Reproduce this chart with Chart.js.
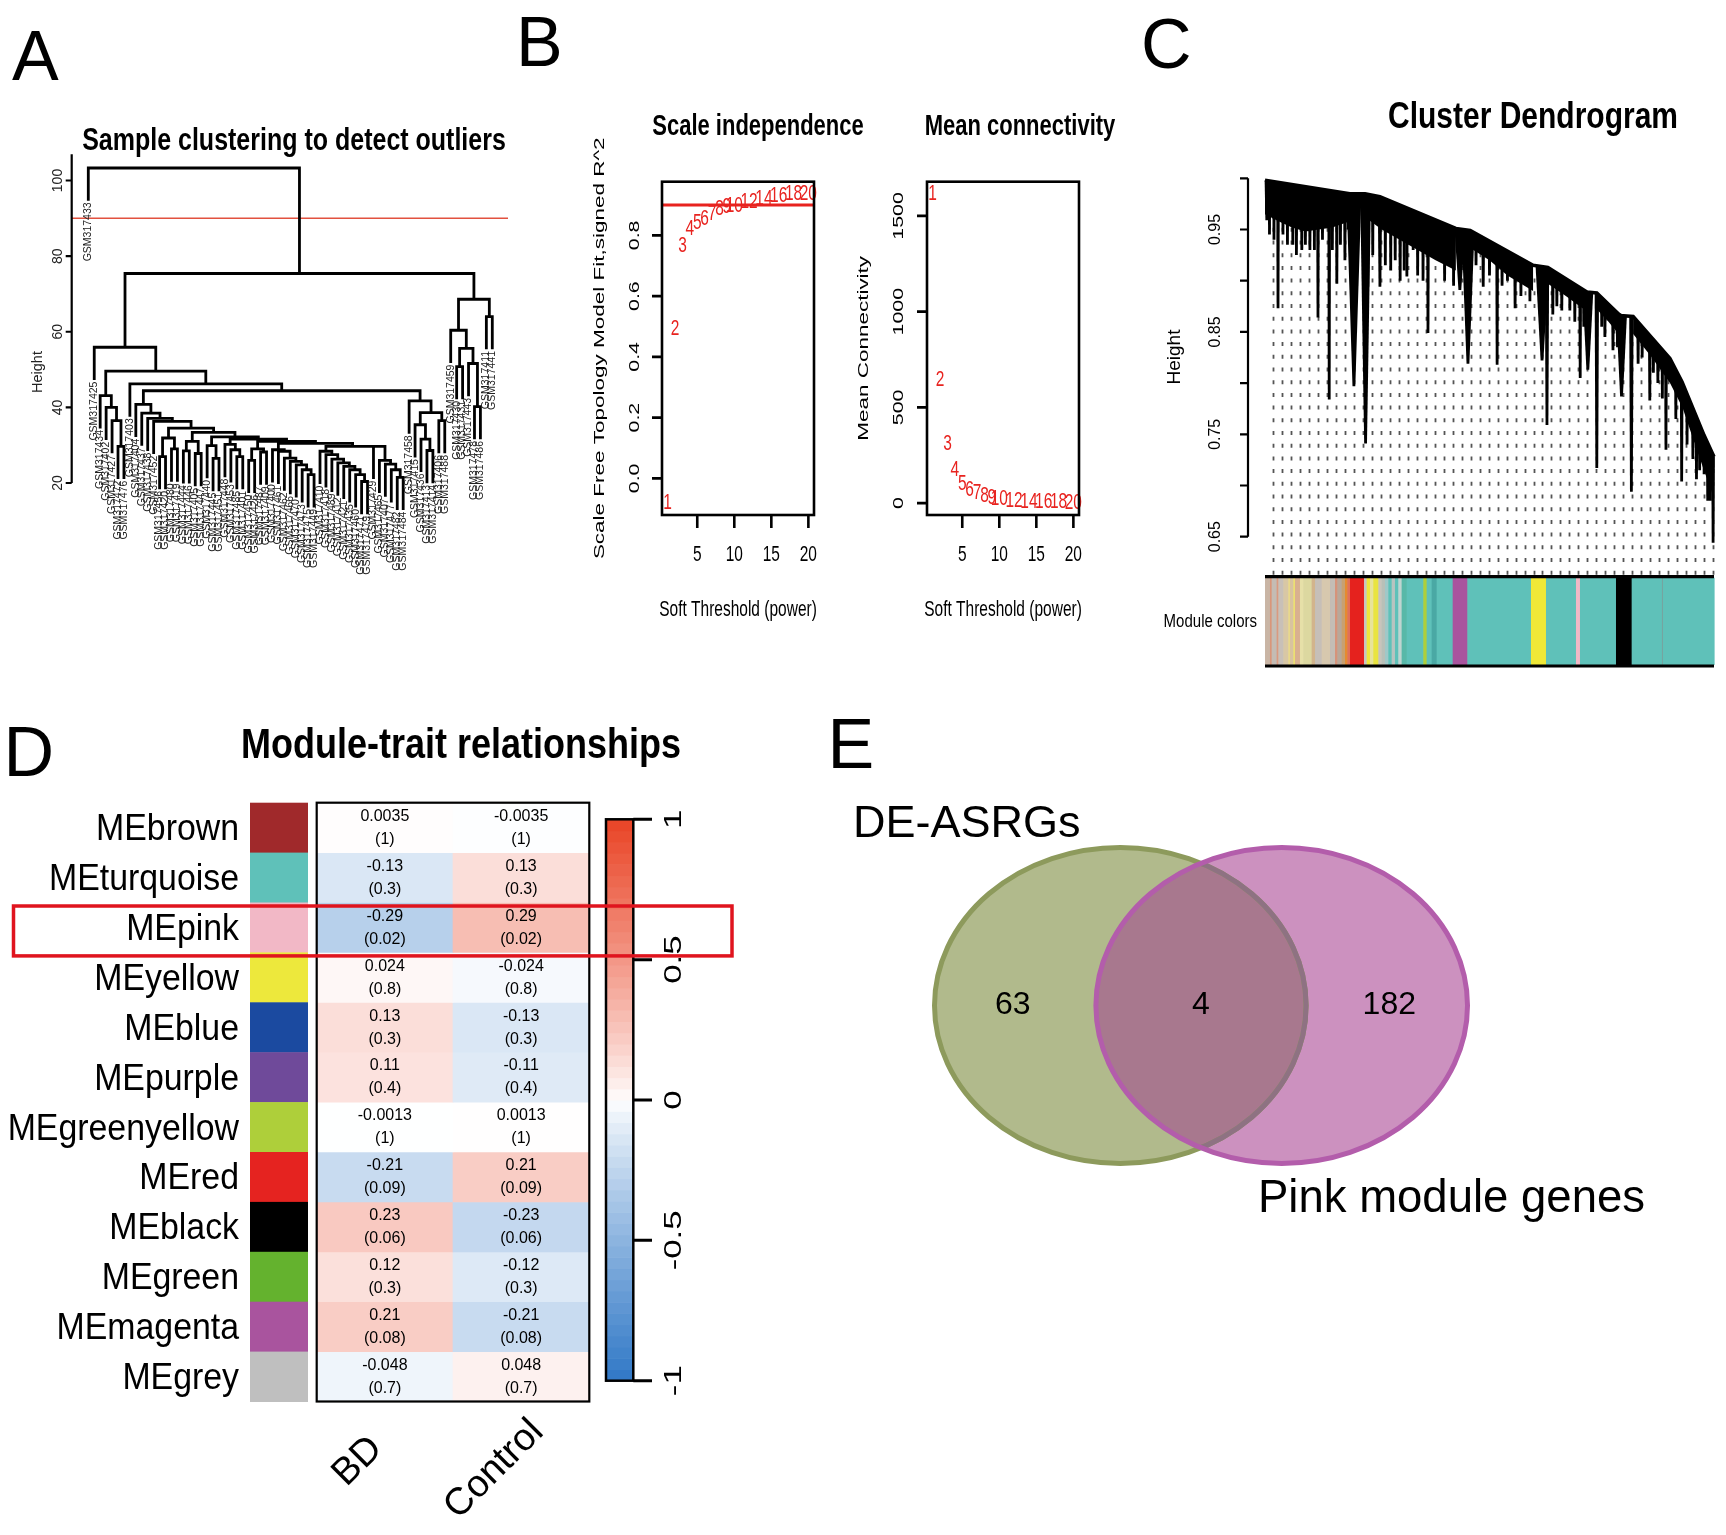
<!DOCTYPE html>
<html>
<head>
<meta charset="utf-8">
<title>WGCNA analysis</title>
<script src="https://cdn.jsdelivr.net/npm/chart.js@4.4.1/dist/chart.umd.min.js"></script>
<style>
  html, body { margin: 0; padding: 0; background: #fff; }
  #wrap { position: relative; width: 1726px; height: 1535px; overflow: hidden; background: #fff; }
  #wrap canvas { position: absolute; left: 0; top: 0; }
</style>
</head>
<body>
<div id="wrap"></div>
<script>
// ---------- A: sample clustering (node = [height, left, right], leaf = sample id)
const catA = [28.8, 'GSM317400', [28.4, 'GSM317461', [26.6, 'GSM317462', [25.7, 'GSM317466', [24.8, 'GSM317470', [23.5, 'GSM317473', [22.2, 'GSM317475', 'GSM317449']]]]]]];
const catB = [28.4, 'GSM317410', [27.5, 'GSM317418', [26.3, 'GSM317489', [25.3, 'GSM317412', [24.4, 'GSM317421', [23.5, 'GSM317435', [22.2, 'GSM317460', [20.4, 'GSM317471', 'GSM317479']]]]]]]];
const catC = [29.7, 'GSM317429', [26.0, 'GSM317465', [25.0, 'GSM317407', [23.5, 'GSM317477', [21.5, 'GSM317482', 'GSM317484']]]]];
const coreTree = [40.8, 'GSM317404', [38.5, 'GSM317437', [37.1, 'GSM317438', [36.3, 'GSM317452', [34.5,
  [31.9, [27.0, 'GSM317456', 'GSM317420'], [29.0, 'GSM317480', 'GSM317419']],
  [33.4,
    [31.0, [28.5, 'GSM317444', 'GSM317446'], [27.8, 'GSM317405', 'GSM317447']],
    [32.2,
      [29.9, 'GSM317440', [26.5, 'GSM317445', 'GSM317451']],
      [31.6,
        [30.2, 'GSM317448', [28.8, 'GSM317453', [27.0, 'GSM317485', 'GSM317401']]],
        [31.0,
          [29.0, [26.0, 'GSM317450', 'GSM317426'], [28.2, 'GSM317487', 'GSM317409']],
          [30.5, catA, [29.7, catB, catC]]
        ]]]]]]]]];
const rightSmall = [41.7, 'GSM317458', [38.6, [35.4, 'GSM317415', [31.6, 'GSM317436', [28.6, 'GSM317413', 'GSM317414']]], [36.5, 'GSM317406', 'GSM317488']]];
const outerRight = [68.6, [60.4, 'GSM317459', [55.6, [50.8, 'GSM317430', 'GSM317431'], [51.6, 'GSM317443', [40.2, 'GSM317478', 'GSM317486']]]], [64.0, 'GSM317411', 'GSM317441']];
const sampleTree = [103.3, 'GSM317433', [75.4,
  [55.9, 'GSM317425', [49.6,
    [43.1, 'GSM317434', [40.0, 'GSM317402', [36.5, 'GSM317427', [29.7, 'GSM317472', 'GSM317476']]]],
    [46.2, 'GSM317403', [44.4, coreTree, rightSmall]]]],
  outerRight]];
const cutHeight = 90;
const heightTicks = [20, 40, 60, 80, 100];

// ---------- B: soft threshold
const powers = [1, 2, 3, 4, 5, 6, 7, 8, 9, 10, 12, 14, 16, 18, 20];
const scaleFreeFit = [-0.08, 0.49, 0.766, 0.819, 0.841, 0.855, 0.869, 0.886, 0.893, 0.897, 0.908, 0.919, 0.93, 0.936, 0.936];
const meanConnectivity = [1614, 642, 310, 170, 100, 68, 51, 35, 26, 19, 11, 7, 5, 3.5, 2.5];
const fitCutoff = 0.9;
const powerTicks = [5, 10, 15, 20];
const fitTicks = [0, 0.2, 0.4, 0.6, 0.8];
const connTicks = [0, 500, 1000, 1500];

// ---------- C: gene dendrogram (x = gene order 0..1000)
const envelopeX = [0, 189, 223, 256, 425, 457, 597, 630, 717, 739, 791, 820, 902, 929, 978, 1000];
const envelopeH = [0.998, 0.985, 0.985, 0.982, 0.951, 0.949, 0.915, 0.913, 0.889, 0.888, 0.866, 0.865, 0.824, 0.801, 0.749, 0.728];
const denseBlocks = [
  [[0, 0.965], [30, 0.958], [60, 0.952], [90, 0.948], [120, 0.95], [150, 0.952], [189, 0.958]],
  [[223, 0.962], [260, 0.95], [300, 0.94], [340, 0.93], [380, 0.92], [425, 0.91]],
  [[457, 0.932], [500, 0.92], [540, 0.905], [597, 0.89]],
  [[630, 0.897], [670, 0.885], [717, 0.87]],
  [[739, 0.872], [765, 0.86], [791, 0.846]],
  [[820, 0.848], [860, 0.826], [902, 0.8], [930, 0.776], [960, 0.737], [980, 0.712], [1000, 0.688]]
];
// [position, lowest height, branch size]
const branchDrops = [
  [4, 0.959, 6], [29, 0.873, 5], [50, 0.935, 4], [82, 0.930, 5], [100, 0.930, 5], [118, 0.864, 5], [143, 0.784, 5], [160, 0.897, 5], [178, 0.920, 5],
  [198, 0.797, 14], [224, 0.741, 10], [229, 0.894, 6], [256, 0.894, 6], [280, 0.91, 4], [301, 0.900, 5], [316, 0.904, 5], [330, 0.930, 4], [363, 0.849, 5], [374, 0.927, 4], [390, 0.930, 4], [412, 0.917, 5],
  [434, 0.891, 10], [452, 0.819, 12], [486, 0.894, 5], [517, 0.818, 5], [540, 0.9, 4], [557, 0.873, 5], [583, 0.914, 6],
  [617, 0.822, 12], [628, 0.759, 6], [641, 0.867, 5], [661, 0.871, 4], [679, 0.871, 4], [702, 0.805, 5],
  [719, 0.813, 10], [739, 0.717, 6], [757, 0.845, 5], [775, 0.832, 5], [794, 0.787, 10], [816, 0.694, 6], [831, 0.819, 5], [857, 0.783, 5], [875, 0.800, 5], [893, 0.735, 5],
  [928, 0.704, 5], [953, 0.726, 5], [961, 0.706, 4], [978, 0.711, 5], [986, 0.685, 5], [998, 0.644, 5],
  [10, 0.945, 3], [20, 0.94, 3], [40, 0.945, 3], [62, 0.935, 3], [70, 0.925, 3], [90, 0.935, 3], [110, 0.93, 3], [128, 0.94, 3], [150, 0.93, 3], [168, 0.935, 3], [185, 0.95, 3],
  [240, 0.925, 3], [268, 0.915, 3], [290, 0.92, 3], [310, 0.91, 3], [340, 0.905, 3], [352, 0.9, 3], [400, 0.9, 3], [420, 0.895, 3],
  [470, 0.915, 3], [500, 0.905, 3], [528, 0.895, 3], [570, 0.885, 3], [590, 0.88, 3],
  [650, 0.875, 3], [690, 0.86, 3], [710, 0.855, 3], [750, 0.855, 3], [785, 0.835, 3],
  [840, 0.825, 3], [865, 0.81, 3], [885, 0.785, 3], [915, 0.765, 3], [940, 0.74, 3], [968, 0.715, 3], [992, 0.685, 3]
];
const moduleBarStart = [0, 11.1, 14.8, 25.9, 29.7, 40.8, 51.9, 55.7, 63.1, 66.8, 77.9, 85.3, 103.9, 111.4, 126.2, 144.8, 155.9, 161.1, 170.8, 178.2, 183.4,
  189.3, 220.5, 226.4, 233.8, 241.2, 252.4, 259.8, 267.2, 274.6, 282.1, 289.5, 296.9, 304.3, 315.5, 352.6, 360, 371.2, 382.3, 418, 450.6, 592.4, 625.8, 692.6, 701.5, 781.7, 816.6, 884, 886];
const moduleBarColor = ['#c9b5a5', '#d9967a', '#c4bcb4', '#d99a80', '#c8c0b8', '#d8c7a5', '#e8d88a', '#d8c3a0', '#ece070', '#d9b090', '#e6e0a8', '#dcd8a0', '#d2b48c', '#c6bfb8', '#d7c8ae', '#c4bdb5', '#d6937a', '#b8a89a', '#c8a070', '#e58a30', '#e0705a',
  '#e5221e', '#c8c8c0', '#ede83c', '#e8e49a', '#e9e440', '#c8c4bc', '#b8c0b8', '#a0c8c8', '#5fc1b9', '#b8c4c0', '#5fc1b9', '#c0d4d0', '#58b8a8', '#5fc1b9', '#aecf3a', '#5fc1b9', '#4aa8a4', '#5fc1b9', '#a9549e', '#5fc1b9', '#efe837', '#5fc1b9', '#f2b8c6', '#5fc1b9', '#000000', '#5fc1b9', '#7a9e9a', '#5fc1b9'];
const dissTicks = [0.65, 0.70, 0.75, 0.80, 0.85, 0.90, 0.95, 1.0];
const dissLabels = [0.65, 0.75, 0.85, 0.95];

// ---------- D: module-trait relationships
const modules = ['MEbrown', 'MEturquoise', 'MEpink', 'MEyellow', 'MEblue', 'MEpurple', 'MEgreenyellow', 'MEred', 'MEblack', 'MEgreen', 'MEmagenta', 'MEgrey'];
const moduleColors = ['#a0292b', '#5fc1b9', '#f2b8c6', '#ede83c', '#1b4aa0', '#6f4a9a', '#aecf3a', '#e52320', '#000000', '#64b22e', '#a9549e', '#bfbfbf'];
const traits = ['BD', 'Control'];
const corBD = [0.0035, -0.13, -0.29, 0.024, 0.13, 0.11, -0.0013, -0.21, 0.23, 0.12, 0.21, -0.048];
const corControl = [-0.0035, 0.13, 0.29, -0.024, -0.13, -0.11, 0.0013, 0.21, -0.23, -0.12, -0.21, 0.048];
const pBD = ['1', '0.3', '0.02', '0.8', '0.3', '0.4', '1', '0.09', '0.06', '0.3', '0.08', '0.7'];
const pControl = ['1', '0.3', '0.02', '0.8', '0.3', '0.4', '1', '0.09', '0.06', '0.3', '0.08', '0.7'];
const legendTicks = [1, 0.5, 0, -0.5, -1];
const highlightModule = 'MEpink';

// ---------- E: venn
const setNames = ['DE-ASRGs', 'Pink module genes'];
const vennCounts = [63, 4, 182]; // left only, both, right only

// ---------- helpers
const W = 1726, H = 1535;
const FONT = '"Liberation Sans", Arial, Helvetica, sans-serif';

function T(ctx, s, x, y, o) {
  o = o || {};
  ctx.save();
  ctx.translate(x, y);
  ctx.scale(o.sx || 1, o.sy || 1);
  if (o.rot) ctx.rotate(o.rot);
  ctx.font = (o.bold ? 'bold ' : '') + (o.size || 14) + 'px ' + FONT;
  ctx.fillStyle = o.color || '#000';
  ctx.textAlign = o.align || 'center';
  ctx.textBaseline = o.base || 'middle';
  ctx.fillText(s, 0, 0);
  ctx.restore();
}

function letter(ctx, s, x, y) {
  T(ctx, s, x, y, { size: 70, align: 'left', base: 'alphabetic' });
}

function makeChart(area, type, data, scales, plugins) {
  const c = document.createElement('canvas');
  c.width = W; c.height = H;
  c.style.width = W + 'px'; c.style.height = H + 'px';
  document.getElementById('wrap').appendChild(c);
  return new Chart(c, {
    type: type,
    data: data,
    options: {
      responsive: false,
      animation: false,
      devicePixelRatio: 1,
      events: [],
      layout: { padding: { left: area.l, top: area.t, right: W - area.r, bottom: H - area.b } },
      plugins: { legend: { display: false }, tooltip: { enabled: false }, title: { display: false } },
      scales: scales
    },
    plugins: plugins
  });
}

function corColor(v) {
  const a = Math.pow(Math.min(1, Math.abs(v)), 0.85);
  const end = v >= 0 ? [233, 68, 38] : [48, 120, 198];
  const ch = end.map(e => Math.round(255 + (e - 255) * a));
  return 'rgb(' + ch.join(',') + ')';
}

// ---------- A
(function () {
  const seg = [], leaves = [], hs = [];
  (function collect(n) { if (typeof n !== 'string') { hs.push(n[0]); collect(n[1]); collect(n[2]); } })(sampleTree);
  const hMax = Math.max(...hs), hMin = Math.min(...hs);
  const hang = 0.1 * (hMax - hMin);
  let count = 0;
  function walk(n) {
    if (typeof n === 'string') { count++; return { x: count, leaf: n }; }
    const a = walk(n[1]), b = walk(n[2]), h = n[0];
    const ya = a.leaf ? h - hang : a.h, yb = b.leaf ? h - hang : b.h;
    if (a.leaf) leaves.push({ label: a.leaf, x: a.x, y: ya });
    if (b.leaf) leaves.push({ label: b.leaf, x: b.x, y: yb });
    seg.push({ x: a.x, y: ya }, { x: a.x, y: h }, { x: b.x, y: h }, { x: b.x, y: yb }, { x: a.x, y: null });
    return { x: (a.x + b.x) / 2, h: h };
  }
  walk(sampleTree);
  const area = { l: 71.7, r: 508, t: 180.5, b: 483 };
  const first = 88.3, last = 492.3;
  const step = (last - first) / (count - 1);
  const xmin = 1 - (first - area.l) / step, xmax = count + (area.r - last) / step;
  const axisTop = hMax + 0.04 * (hMax - (hMin - hang));

  makeChart(area, 'scatter', {
    datasets: [
      { data: seg, showLine: true, spanGaps: false, borderColor: '#000', borderWidth: 2.8, pointRadius: 0, clip: false, borderCapStyle: 'square' },
      { data: [{ x: xmin, y: cutHeight }, { x: xmax, y: cutHeight }], showLine: true, borderColor: '#e2513f', borderWidth: 1.4, pointRadius: 0, clip: false }
    ]
  }, {
    x: { type: 'linear', display: false, min: xmin, max: xmax },
    y: { type: 'linear', display: false, min: 20, max: 100 }
  }, [{
    id: 'panelA',
    afterDatasetsDraw(c) {
      const ctx = c.ctx, xs = c.scales.x, ys = c.scales.y, ca = c.chartArea;
      ctx.save();
      ctx.strokeStyle = '#000'; ctx.lineWidth = 2.2;
      ctx.beginPath();
      ctx.moveTo(ca.left, ys.getPixelForValue(axisTop));
      ctx.lineTo(ca.left, ys.getPixelForValue(heightTicks[0]));
      heightTicks.forEach(v => { const y = ys.getPixelForValue(v); ctx.moveTo(ca.left, y); ctx.lineTo(ca.left - 6, y); });
      ctx.stroke();
      ctx.restore();
      heightTicks.forEach(v => T(ctx, String(v), ca.left - 14, ys.getPixelForValue(v), { size: 14, rot: -Math.PI / 2, color: '#222' }));
      T(ctx, 'Height', 37.5, 372, { size: 14.5, rot: -Math.PI / 2, color: '#222' });
      leaves.forEach(L => T(ctx, L.label, xs.getPixelForValue(L.x), ys.getPixelForValue(L.y) + 3, { size: 10.5, rot: -Math.PI / 2, align: 'right', color: '#222' }));
      T(ctx, 'Sample clustering to detect outliers', 294, 150, { size: 25, bold: true, sy: 1.24, base: 'alphabetic' });
      letter(ctx, 'A', 12, 80);
    }
  }]);
})();

// ---------- B
function softPanel(o) {
  const pts = powers.map((p, i) => ({ x: p, y: o.values[i] }));
  const pxPad = 0.04 * (Math.max(...powers) - Math.min(...powers));
  const vMin = Math.min(...o.values), vMax = Math.max(...o.values), vPad = 0.04 * (vMax - vMin);
  const xmin = Math.min(...powers) - pxPad, xmax = Math.max(...powers) + pxPad;
  const ds = [{ data: pts, pointRadius: 0, showLine: false }];
  if (o.cut != null) ds.push({ data: [{ x: xmin, y: o.cut }, { x: xmax, y: o.cut }], showLine: true, borderColor: '#e8231f', borderWidth: 3, pointRadius: 0 });
  makeChart(o.area, 'scatter', { datasets: ds }, {
    x: { type: 'linear', display: false, min: xmin, max: xmax },
    y: { type: 'linear', display: false, min: vMin - vPad, max: vMax + vPad }
  }, [{
    id: 'soft' + o.key,
    afterDatasetsDraw(c) {
      const ctx = c.ctx, xs = c.scales.x, ys = c.scales.y, ca = c.chartArea;
      powers.forEach((p, i) => T(ctx, String(p), xs.getPixelForValue(p), ys.getPixelForValue(o.values[i]), { size: 15.5, sy: 1.38, color: '#e8231f' }));
      ctx.save();
      ctx.strokeStyle = '#000'; ctx.lineWidth = 2.6;
      ctx.strokeRect(ca.left, ca.top, ca.right - ca.left, ca.bottom - ca.top);
      ctx.beginPath();
      powerTicks.forEach(v => { const x = xs.getPixelForValue(v); ctx.moveTo(x, ca.bottom); ctx.lineTo(x, ca.bottom + 13); });
      o.ticks.forEach(v => { const y = ys.getPixelForValue(v); ctx.moveTo(ca.left, y); ctx.lineTo(ca.left - 10, y); });
      ctx.stroke();
      ctx.restore();
      powerTicks.forEach(v => T(ctx, String(v), xs.getPixelForValue(v), 555, { size: 15.5, sy: 1.38 }));
      o.ticks.forEach(v => T(ctx, o.fmt(v), o.tickLabX, ys.getPixelForValue(v), { size: 15.5, sy: 1.38, rot: -Math.PI / 2 }));
      T(ctx, o.title, o.titleX, 127, { size: 22, bold: true, sy: 1.3 });
      T(ctx, o.ylab, o.ylabX, (ca.top + ca.bottom) / 2, { size: 15.5, sy: 1.45, rot: -Math.PI / 2 });
      T(ctx, 'Soft Threshold (power)', (ca.left + ca.right) / 2, 610, { size: 15.5, sy: 1.38 });
      if (o.letter) letter(ctx, 'B', 516, 66);
    }
  }]);
}
softPanel({ key: 'fit', area: { l: 662, r: 814, t: 181.7, b: 515 }, values: scaleFreeFit, cut: fitCutoff, ticks: fitTicks, fmt: v => v.toFixed(1),
  title: 'Scale independence', titleX: 758, ylab: 'Scale Free Topology Model Fit,signed R^2', ylabX: 599.5, tickLabX: 635, letter: true });
softPanel({ key: 'k', area: { l: 927, r: 1079, t: 181.7, b: 515 }, values: meanConnectivity, cut: null, ticks: connTicks, fmt: v => String(v),
  title: 'Mean connectivity', titleX: 1020, ylab: 'Mean Connectivity', ylabX: 864, tickLabX: 899, letter: false });

// ---------- C
function envAt(x) {
  for (let i = 1; i < envelopeX.length; i++) {
    if (x <= envelopeX[i]) {
      const t = (x - envelopeX[i - 1]) / (envelopeX[i] - envelopeX[i - 1]);
      return envelopeH[i - 1] + t * (envelopeH[i] - envelopeH[i - 1]);
    }
  }
  return envelopeH[envelopeH.length - 1];
}
(function () {
  const area = { l: 1265, r: 1714, t: 178.3, b: 536.7 };
  const barTop = 576.7, barBottom = 666;
  makeChart(area, 'scatter', {
    datasets: [{ data: envelopeX.map((x, i) => ({ x: x, y: envelopeH[i] })), showLine: true, borderColor: '#000', borderWidth: 3.5, pointRadius: 0, clip: false }]
  }, {
    x: { type: 'linear', display: false, min: 0, max: 1000 },
    y: { type: 'linear', display: false, min: 0.65, max: 1.0 }
  }, [{
    id: 'panelC',
    beforeDatasetsDraw(c) {
      const ctx = c.ctx, xs = c.scales.x, ys = c.scales.y;
      const px = v => xs.getPixelForValue(v), py = v => ys.getPixelForValue(v);
      ctx.save();
      // guide lines, phase-aligned so the dots form rows
      ctx.strokeStyle = '#555'; ctx.lineWidth = 1.8; ctx.setLineDash([4, 8.7]);
      for (let i = 0; i < 50; i++) {
        const xv = 18 + 20 * i;
        const x = Math.round(px(xv)) + 0.5;
        ctx.beginPath(); ctx.moveTo(x, barTop - 2); ctx.lineTo(x, py(envAt(xv)) + 6); ctx.stroke();
      }
      ctx.setLineDash([]);
      ctx.fillStyle = '#000';
      denseBlocks.forEach(bl => {
        const x0 = bl[0][0], x1 = bl[bl.length - 1][0];
        const tops = Array.from(new Set(bl.map(p => p[0]).concat(envelopeX.filter(x => x > x0 && x < x1)))).sort((a, b) => a - b);
        ctx.beginPath();
        tops.forEach((x, i) => { const X = px(x), Y = py(envAt(x)); if (i) ctx.lineTo(X, Y); else ctx.moveTo(X, Y); });
        for (let i = bl.length - 1; i >= 0; i--) ctx.lineTo(px(bl[i][0]), py(bl[i][1]));
        ctx.closePath(); ctx.fill();
      });
      branchDrops.forEach(d => {
        const x = d[0], h = d[1], s = d[2] * (d[2] >= 10 ? 2.4 : 1.6);
        const X = px(x);
        const half = Math.max(1.7, (px(x + s / 2) - px(x - s / 2)) / 2);
        ctx.beginPath();
        ctx.moveTo(X - half, py(envAt(Math.max(0, x - s / 2))));
        ctx.lineTo(X + half, py(envAt(Math.min(1000, x + s / 2))));
        ctx.lineTo(X + 1.4, py(h));
        ctx.lineTo(X - 1.4, py(h));
        ctx.closePath(); ctx.fill();
      });
      ctx.restore();
    },
    afterDatasetsDraw(c) {
      const ctx = c.ctx, xs = c.scales.x, ys = c.scales.y;
      const px = v => xs.getPixelForValue(v), py = v => ys.getPixelForValue(v);
      const axX = 1248;
      ctx.save();
      ctx.strokeStyle = '#000'; ctx.lineWidth = 2.2;
      ctx.beginPath();
      ctx.moveTo(axX, py(dissTicks[dissTicks.length - 1])); ctx.lineTo(axX, py(dissTicks[0]));
      dissTicks.forEach(v => { const y = py(v); ctx.moveTo(axX, y); ctx.lineTo(axX - 8, y); });
      ctx.stroke();
      moduleBarStart.forEach((s, i) => {
        const e = i + 1 < moduleBarStart.length ? moduleBarStart[i + 1] : 1000;
        ctx.fillStyle = moduleBarColor[i];
        ctx.fillRect(px(s), barTop + 1, px(e) - px(s) + 0.6, barBottom - barTop - 2);
      });
      ctx.lineWidth = 3.2;
      ctx.beginPath();
      ctx.moveTo(px(0), barTop); ctx.lineTo(px(1000), barTop);
      ctx.moveTo(px(0), barBottom); ctx.lineTo(px(1000), barBottom);
      ctx.stroke();
      ctx.restore();
      dissLabels.forEach(v => T(ctx, v.toFixed(2), 1216, py(v), { size: 16, rot: -Math.PI / 2 }));
      T(ctx, 'Height', 1174.5, 357, { size: 19, rot: -Math.PI / 2 });
      T(ctx, 'Cluster Dendrogram', 1533, 118, { size: 30, bold: true, sy: 1.25 });
      T(ctx, 'Module colors', 1257, 622, { size: 15, sy: 1.2, align: 'right' });
      letter(ctx, 'C', 1141, 68);
    }
  }]);
})();

// ---------- D
(function () {
  const area = { l: 316.7, r: 589.3, t: 802.7, b: 1401.5 };
  const datasets = modules.map((m, i) => ({
    label: m,
    data: [1, 1],
    backgroundColor: [corColor(corBD[i]), corColor(corControl[i])],
    borderWidth: 0,
    barPercentage: 1,
    categoryPercentage: 1
  }));
  const legZero = 1100, legHalf = 280.7;
  const legY = v => legZero - v * legHalf;
  makeChart(area, 'bar', { labels: traits, datasets: datasets }, {
    x: { type: 'category', display: false, stacked: true },
    y: { type: 'linear', display: false, min: 0, max: modules.length, reverse: true, stacked: true }
  }, [{
    id: 'panelD',
    afterDatasetsDraw(c) {
      const ctx = c.ctx, xs = c.scales.x, ys = c.scales.y, ca = c.chartArea;
      ctx.save();
      modules.forEach((m, i) => {
        ctx.fillStyle = moduleColors[i];
        ctx.fillRect(250, ys.getPixelForValue(i), 58, ys.getPixelForValue(i + 1) - ys.getPixelForValue(i) + 0.5);
      });
      ctx.strokeStyle = '#000'; ctx.lineWidth = 2.2;
      ctx.strokeRect(ca.left, ca.top, ca.right - ca.left, ca.bottom - ca.top);
      ctx.restore();
      modules.forEach((m, i) => {
        const yc = (ys.getPixelForValue(i) + ys.getPixelForValue(i + 1)) / 2;
        T(ctx, m, 239, yc + 12.5, { size: 36, sx: 0.94, align: 'right', base: 'alphabetic' });
        [[corBD, pBD], [corControl, pControl]].forEach((pair, j) => {
          const xc = xs.getPixelForValue(j);
          T(ctx, String(pair[0][i]), xc, yc - 11.5, { size: 16, sy: 1.08 });
          T(ctx, '(' + pair[1][i] + ')', xc, yc + 11.5, { size: 16, sy: 1.08 });
        });
      });
      ctx.save();
      for (let k = 0; k < 50; k++) {
        const v0 = -1 + k * 0.04, v1 = v0 + 0.04;
        ctx.fillStyle = corColor(v0 + 0.02);
        ctx.fillRect(606, legY(v1), 27.3, legY(v0) - legY(v1) + 0.6);
      }
      ctx.strokeStyle = '#000'; ctx.lineWidth = 2.5;
      ctx.strokeRect(606, legY(1), 27.3, legY(-1) - legY(1));
      ctx.lineWidth = 3;
      ctx.beginPath();
      legendTicks.forEach(v => { ctx.moveTo(633.3, legY(v)); ctx.lineTo(652, legY(v)); });
      ctx.stroke();
      ctx.restore();
      legendTicks.forEach(v => T(ctx, String(v), 674, legY(v), { size: 24, sy: 1.45, rot: -Math.PI / 2 }));
      const hi = modules.indexOf(highlightModule);
      ctx.save();
      ctx.strokeStyle = '#e0141e'; ctx.lineWidth = 3.5;
      ctx.strokeRect(13.5, ys.getPixelForValue(hi) + 3.5, 718.5, ys.getPixelForValue(hi + 1) - ys.getPixelForValue(hi));
      ctx.restore();
      T(ctx, 'Module-trait relationships', 461, 758, { size: 36, bold: true, sy: 1.2, base: 'alphabetic' });
      T(ctx, traits[0], xs.getPixelForValue(0) - 27, ca.bottom + 60, { size: 38, rot: -Math.PI / 4 });
      T(ctx, traits[1], xs.getPixelForValue(1) - 27, ca.bottom + 68, { size: 38, rot: -Math.PI / 4 });
      letter(ctx, 'D', 3.5, 776);
    }
  }]);
})();

// ---------- E
(function () {
  const area = { l: 932, r: 1470, t: 845, b: 1166 };
  const circles = [
    { cx: -0.3, r: 0.7, fill: '#b1ba8c', stroke: '#8d9a5c' },
    { cx: 0.3, r: 0.7, fill: '#cc91bf', stroke: '#b35dab' }
  ];
  const leftEdgeR = circles[1].cx - circles[1].r, rightEdgeL = circles[0].cx + circles[0].r;
  const labelX = [(-1 + leftEdgeR) / 2, (leftEdgeR + rightEdgeL) / 2, (rightEdgeL + 1) / 2];
  makeChart(area, 'scatter', {
    datasets: [{ data: labelX.map(x => ({ x: x, y: 0 })), pointRadius: 0 }]
  }, {
    x: { type: 'linear', display: false, min: -1, max: 1 },
    y: { type: 'linear', display: false, min: -1, max: 1 }
  }, [{
    id: 'panelE',
    beforeDatasetsDraw(c) {
      const ctx = c.ctx, xs = c.scales.x, ys = c.scales.y;
      const path = k => {
        const C = circles[k];
        const cx = xs.getPixelForValue(C.cx), cy = ys.getPixelForValue(0);
        const rx = xs.getPixelForValue(C.cx + C.r) - cx, ry = ys.getPixelForValue(-1) - cy;
        ctx.beginPath(); ctx.ellipse(cx, cy, rx - 2.5, ry - 2.5, 0, 0, Math.PI * 2);
      };
      ctx.save();
      path(0); ctx.fillStyle = circles[0].fill; ctx.fill();
      path(1); ctx.fillStyle = circles[1].fill; ctx.fill();
      ctx.save(); path(0); ctx.clip(); path(1); ctx.fillStyle = '#a8788e'; ctx.fill(); ctx.restore();
      ctx.lineWidth = 5;
      path(0); ctx.strokeStyle = circles[0].stroke; ctx.stroke();
      ctx.save(); path(1); ctx.clip(); path(0); ctx.strokeStyle = '#8e7282'; ctx.stroke(); ctx.restore();
      path(1); ctx.strokeStyle = circles[1].stroke; ctx.stroke();
      ctx.restore();
    },
    afterDatasetsDraw(c) {
      const ctx = c.ctx, xs = c.scales.x, ys = c.scales.y;
      c.data.datasets[0].data.forEach((p, i) => T(ctx, String(vennCounts[i]), xs.getPixelForValue(p.x), ys.getPixelForValue(p.y), { size: 32 }));
      T(ctx, setNames[0], 853, 837, { size: 45, align: 'left', base: 'alphabetic' });
      T(ctx, setNames[1], 1258, 1212, { size: 45.5, align: 'left', base: 'alphabetic' });
      letter(ctx, 'E', 827.5, 768);
    }
  }]);
})();
</script>
</body>
</html>
